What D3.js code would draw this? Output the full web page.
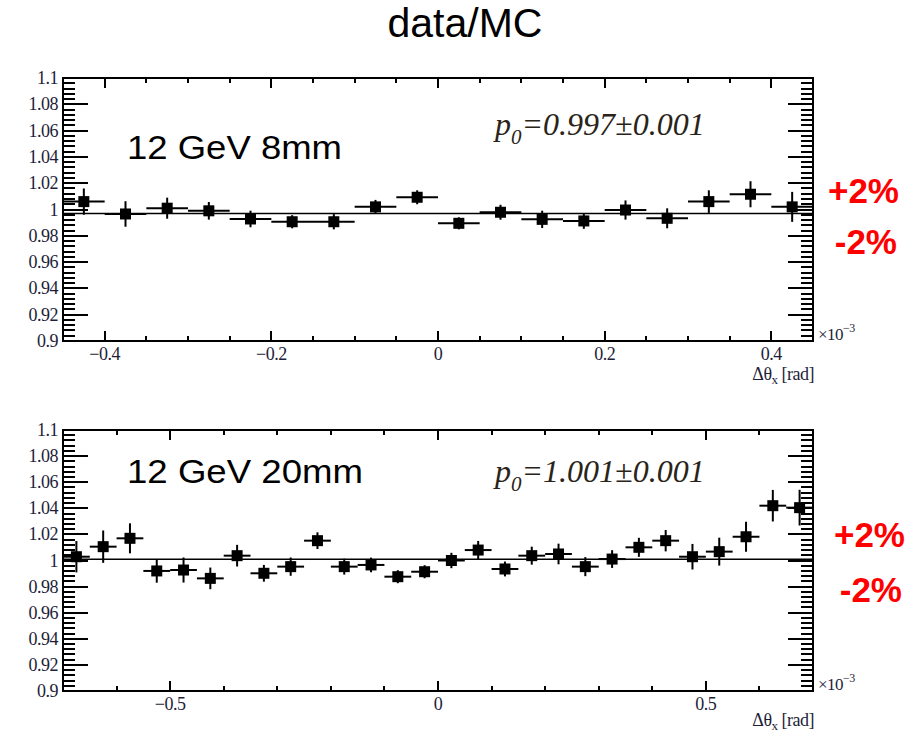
<!DOCTYPE html>
<html>
<head>
<meta charset="utf-8">
<script src="https://cdn.jsdelivr.net/npm/d3@7"></script>
<style>
  body { margin: 0; background: #fff; }
  .tick-label { font-family: "Liberation Serif", "DejaVu Serif", serif; font-size: 18px; fill: #1e1e38; letter-spacing: -0.5px; }
  .big { font-family: "Liberation Sans", Arial, sans-serif; fill: #000; }
  .pct { font-family: "Liberation Sans", Arial, sans-serif; font-weight: bold; fill: #ff0000; font-size: 35px; }
</style>
</head>
<body>
<svg id="chart" width="908" height="732"></svg>
<script>

// ---- data ----
const top_x   = [-0.425, -0.375, -0.325, -0.275, -0.225, -0.175, -0.125, -0.075, -0.025,
                  0.025,  0.075,  0.125,  0.175,  0.225,  0.275,  0.325,  0.375,  0.425];
const top_val = [1.006, 0.9966, 1.001, 0.999, 0.9928, 0.9907, 0.9907, 1.002, 1.0093,
                 0.9895, 0.9979, 0.9925, 0.9913, 0.9996, 0.9933, 1.006, 1.0116, 1.002];
const top_err = [0.010, 0.0097, 0.008, 0.0067, 0.0063, 0.005, 0.0058, 0.0053, 0.0053,
                 0.0046, 0.0057, 0.0066, 0.006, 0.0073, 0.0076, 0.0086, 0.0099, 0.0114];

const bot_x   = [-0.675, -0.625, -0.575, -0.525, -0.475, -0.425, -0.375, -0.325, -0.275, -0.225,
                 -0.175, -0.125, -0.075, -0.025,  0.025,  0.075,  0.125,  0.175,  0.225,  0.275,
                  0.325,  0.375,  0.425,  0.475,  0.525,  0.575,  0.625,  0.675];
const bot_val = [1.0029, 1.0106, 1.017, 0.992, 0.9927, 0.9863, 1.0037, 0.9902, 0.9953, 1.0152,
                 0.9953, 0.9966, 0.9876, 0.9914, 1.0, 1.008, 0.9935, 1.0037, 1.005, 0.9953,
                 1.0011, 1.0101, 1.0152, 1.0029, 1.0068, 1.0182, 1.042, 1.0405];
const bot_err = [0.012, 0.0124, 0.0115, 0.009, 0.0096, 0.0083, 0.0083, 0.0064, 0.007, 0.0064,
                 0.0061, 0.0056, 0.005, 0.005, 0.0059, 0.007, 0.0057, 0.0069, 0.0079, 0.0073,
                 0.0068, 0.0073, 0.0082, 0.0098, 0.0107, 0.0115, 0.0121, 0.0137];

const bin_half = 0.025;
const y_major = [0.9, 0.92, 0.94, 0.96, 0.98, 1, 1.02, 1.04, 1.06, 1.08, 1.1];
const y_minor = [0.904, 0.908, 0.912, 0.916, 0.924, 0.928, 0.932, 0.936, 0.944, 0.948, 0.952, 0.956,
                 0.964, 0.968, 0.972, 0.976, 0.984, 0.988, 0.992, 0.996, 1.004, 1.008, 1.012, 1.016,
                 1.024, 1.028, 1.032, 1.036, 1.044, 1.048, 1.052, 1.056, 1.064, 1.068, 1.072, 1.076,
                 1.084, 1.088, 1.092, 1.096];

const panels = [
  { top: 78, bottom: 341, xdom: [-0.45, 0.45], x: top_x, val: top_val, err: top_err, p0: 0.997,
    fit_text: "=0.997\u00b10.001", label: "12 GeV 8mm", label_w: 215, title_dy: 39,
    x_major: [-0.4, -0.2, 0, 0.2, 0.4],
    x_minor: [-0.35, -0.3, -0.25, -0.15, -0.1, -0.05, 0.05, 0.1, 0.15, 0.25, 0.3, 0.35] },
  { top: 430, bottom: 691, xdom: [-0.7, 0.7], x: bot_x, val: bot_val, err: bot_err, p0: 1.001,
    fit_text: "=1.001\u00b10.001", label: "12 GeV 20mm", label_w: 236, title_dy: 35,
    x_major: [-0.5, 0, 0.5],
    x_minor: [-0.6, -0.4, -0.3, -0.2, -0.1, 0.1, 0.2, 0.3, 0.4, 0.6] }
];

const left = 63, right = 813;
const svg = d3.select("#chart");

svg.append("text")
   .attr("class", "big")
   .attr("x", 465).attr("y", 37)
   .attr("text-anchor", "middle")
   .style("font-size", "41px")
   .text("data/MC");

panels.forEach((p, i) => draw_panel(p, i));

function draw_panel(p, idx) {

    var xScale = d3.scaleLinear().domain(p.xdom).range([left, right]);
    var yScale = d3.scaleLinear().domain([0.9, 1.1]).range([p.bottom, p.top]);
    var g = svg.append("g").attr("class", "panel" + idx);

    // ticks, ROOT style: on all four sides, pointing inward
    var ticks = g.append("g").attr("class", "ticks")
                 .attr("stroke", "#000").attr("stroke-width", 2)
                 .attr("shape-rendering", "crispEdges");

    function y_ticks(vals, len) {
        [[left, left + len], [right, right - len]].forEach(xx => {
            vals.forEach(v => {
                ticks.append("line")
                     .attr("x1", xx[0]).attr("x2", xx[1])
                     .attr("y1", yScale(v)).attr("y2", yScale(v));
            });
        });
    }
    function x_ticks(vals, len) {
        [[p.bottom, p.bottom - len], [p.top, p.top + len]].forEach(yy => {
            vals.forEach(v => {
                ticks.append("line")
                     .attr("x1", xScale(v)).attr("x2", xScale(v))
                     .attr("y1", yy[0]).attr("y2", yy[1]);
            });
        });
    }
    y_ticks(y_major, 25);
    y_ticks(y_minor, 12);
    x_ticks(p.x_major, 10);
    x_ticks(p.x_minor, 5);

    // tick labels
    g.selectAll("text.ylab")
     .data(y_major)
     .enter()
     .append("text")
     .attr("class", "tick-label")
     .attr("text-anchor", "end")
     .attr("x", left - 5)
     .attr("y", d => yScale(d) + 6)
     .text(d => String(+d.toFixed(2)));

    g.selectAll("text.xlab")
     .data(p.x_major)
     .enter()
     .append("text")
     .attr("class", "tick-label")
     .attr("text-anchor", "middle")
     .attr("x", d => xScale(d))
     .attr("y", p.bottom + 19)
     .text(d => d3.format("")(d));

    // x10^-3 and axis title
    var exp = g.append("text").attr("class", "tick-label").attr("x", right + 5).attr("y", p.bottom - 1)
               .style("font-size", "17px");
    exp.append("tspan").text("\u00d710");
    exp.append("tspan").attr("dy", -8).style("font-size", "12px").text("\u22123");

    var ttl = g.append("text").attr("class", "tick-label").attr("text-anchor", "end")
               .attr("x", right + 1).attr("y", p.bottom + p.title_dy).style("font-size", "18px");
    ttl.append("tspan").text("\u0394\u03b8");
    ttl.append("tspan").attr("dy", 4).style("font-size", "13px").text("x");
    ttl.append("tspan").attr("dy", -4).text(" [rad]");

    // fit line
    g.append("line")
     .attr("class", "fit")
     .attr("x1", left).attr("x2", right)
     .attr("y1", yScale(p.p0)).attr("y2", yScale(p.p0))
     .attr("stroke", "#000").attr("stroke-width", 1.6);

    var data = p.x.map((x, i) => [x, p.val[i], p.err[i]]);

    // horizontal error bars (bin width)
    g.selectAll("line.xerr")
     .data(data)
     .enter()
     .append("line")
     .attr("class", "xerr")
     .attr("x1", d => xScale(d[0] - bin_half))
     .attr("x2", d => xScale(d[0] + bin_half))
     .attr("y1", d => yScale(d[1]))
     .attr("y2", d => yScale(d[1]))
     .attr("stroke", "#000").attr("stroke-width", 2);

    // vertical error bars
    g.selectAll("line.yerr")
     .data(data)
     .enter()
     .append("line")
     .attr("class", "yerr")
     .attr("x1", d => xScale(d[0]))
     .attr("x2", d => xScale(d[0]))
     .attr("y1", d => yScale(d[1] - d[2]))
     .attr("y2", d => yScale(d[1] + d[2]))
     .attr("stroke", "#000").attr("stroke-width", 2);

    // square markers
    g.selectAll("rect.marker")
     .data(data)
     .enter()
     .append("rect")
     .attr("class", "marker")
     .attr("x", d => xScale(d[0]) - 5.5)
     .attr("y", d => yScale(d[1]) - 5.5)
     .attr("width", 11).attr("height", 11)
     .attr("fill", "#000");

    // frame
    g.append("rect")
     .attr("x", left).attr("y", p.top)
     .attr("width", right - left).attr("height", p.bottom - p.top)
     .attr("fill", "none").attr("stroke", "#000").attr("stroke-width", 2);

    // labels inside the pad
    g.append("text")
     .attr("class", "big")
     .attr("x", 127).attr("y", p.top + (idx == 0 ? 81 : 53))
     .style("font-size", "33px")
     .attr("textLength", p.label_w)
     .attr("lengthAdjust", "spacingAndGlyphs")
     .text(p.label);

    var fit = g.append("text")
               .attr("x", 495).attr("y", p.top + (idx == 0 ? 57 : 52))
               .style("font-family", "'Liberation Serif', serif")
               .style("font-style", "italic")
               .style("font-size", "32px")
               .attr("fill", "#2a2418");
    fit.append("tspan").text("p");
    fit.append("tspan").attr("dy", 9).style("font-size", "21px").text("0");
    fit.append("tspan").attr("dy", -9).text(p.fit_text);

    // +-2% marks
    g.append("text").attr("class", "pct").attr("text-anchor", "end")
     .attr("x", idx == 0 ? 899 : 905).attr("y", idx == 0 ? 203 : 547).text("+2%");
    g.append("text").attr("class", "pct").attr("text-anchor", "end")
     .attr("x", idx == 0 ? 897 : 902).attr("y", idx == 0 ? 254 : 602).text("-2%");
}

</script>
</body>
</html>
